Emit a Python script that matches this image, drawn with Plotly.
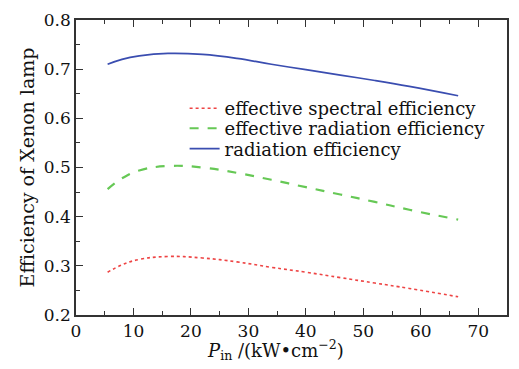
import plotly.graph_objects as go

p_in = [5.5, 8, 11, 16, 22, 28, 34, 40, 46, 52, 58, 66.5]
spectral = [0.287, 0.302, 0.313, 0.319, 0.316, 0.308, 0.297, 0.287, 0.276, 0.265, 0.254, 0.237]
eff_radiation = [0.456, 0.478, 0.494, 0.503, 0.500, 0.489, 0.475, 0.460, 0.445, 0.430, 0.414, 0.394]
radiation = [0.710, 0.720, 0.727, 0.732, 0.730, 0.722, 0.710, 0.699, 0.688, 0.677, 0.665, 0.646]

x_ticks = [0, 10, 20, 30, 40, 50, 60, 70]
y_ticks = [0.2, 0.3, 0.4, 0.5, 0.6, 0.7, 0.8]

FONT = "DejaVu Serif"

fig = go.Figure()
fig.add_trace(go.Scatter(x=p_in, y=spectral, mode="lines", name="effective spectral efficiency",
                         legend="legend",
                         line=dict(color="#ee4444", width=1.6, dash="dot", shape="spline", smoothing=1.2)))
fig.add_trace(go.Scatter(x=p_in, y=eff_radiation, mode="lines", name="effective radiation efficiency",
                         legend="legend2",
                         line=dict(color="#66c855", width=2.2, dash="dash", shape="spline", smoothing=1.2)))
fig.add_trace(go.Scatter(x=p_in, y=radiation, mode="lines", name="radiation efficiency",
                         legend="legend3",
                         line=dict(color="#3a4db0", width=1.7, shape="spline", smoothing=1.2)))

axis_common = dict(showgrid=False, zeroline=False, showline=True, linecolor="#333333", linewidth=1.5,
                   ticks="inside", ticklen=7, tickwidth=1.2, tickcolor="#333333",
                   tickfont=dict(family=FONT, size=17, color="#111111"))

fig.update_xaxes(range=[0, 75], tickvals=x_ticks, mirror="allticks",
                 minor=dict(dtick=5, tick0=0, ticks="inside", ticklen=4, tickcolor="#333333"),
                 **axis_common)
fig.update_yaxes(range=[0.2, 0.8], tickvals=y_ticks, tickformat=".1f", mirror=True,
                 minor=dict(dtick=0.05, tick0=0.2, ticks="inside", ticklen=4, tickcolor="#333333"),
                 title=dict(text="Efficiency of Xenon lamp",
                            font=dict(family=FONT, size=19, color="#111111"), standoff=4),
                 **axis_common)

fig.add_annotation(text="<i>P</i><sub>in</sub> /(kW•cm<sup>−2</sup>)",
                   xref="paper", yref="paper", x=0.462, y=-0.118,
                   xanchor="center", yanchor="middle", showarrow=False,
                   font=dict(family=FONT, size=18, color="#111111"))

leg_common = dict(x=0.252, xanchor="left", yanchor="middle", bgcolor="rgba(0,0,0,0)",
                  font=dict(family=FONT, size=18, color="#111111"), itemwidth=30)

fig.update_layout(
    width=519, height=369,
    margin=dict(l=76, r=10, t=14, b=54),
    paper_bgcolor="white", plot_bgcolor="white",
    showlegend=True,
    legend=dict(y=0.700, **leg_common),
    legend2=dict(y=0.632, **leg_common),
    legend3=dict(y=0.563, **leg_common),
)

fig.write_html("out.html")
